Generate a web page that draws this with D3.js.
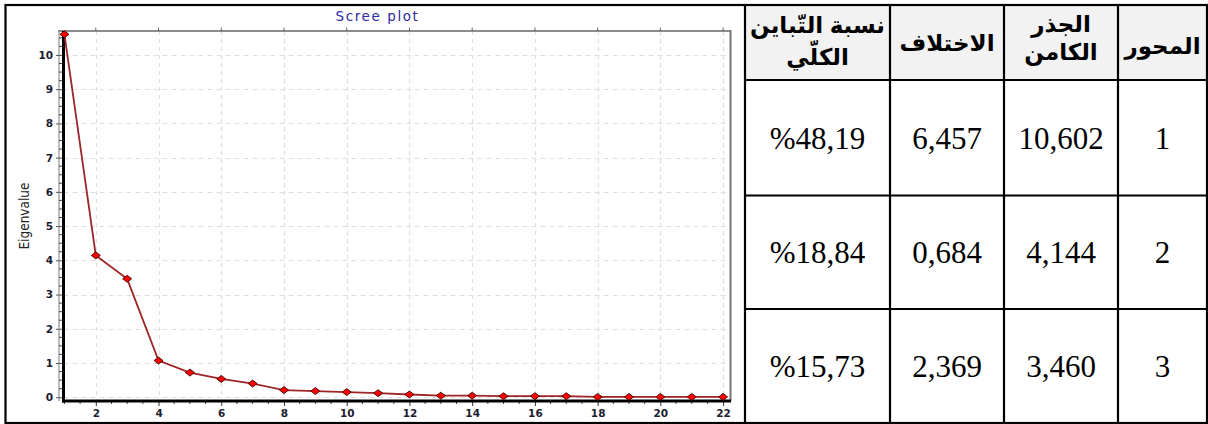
<!DOCTYPE html>
<html>
<head>
<meta charset="utf-8">
<script src="https://cdn.jsdelivr.net/npm/d3@7"></script>
<style>
  html, body { margin: 0; padding: 0; background: #fff; }
  svg { display: block; }
</style>
</head>
<body>
<svg id="page" width="1208" height="424"></svg>
<script>
// Scree plot eigenvalues (components 1..22)
const components = d3.range(1, 23);
const eigenvalues = [10.602, 4.144, 3.460, 1.07, 0.72, 0.535, 0.40, 0.21, 0.18, 0.15,
                     0.12, 0.08, 0.045, 0.045, 0.03, 0.03, 0.03, 0.01, 0.01, 0.01, 0.01, 0.01];
const yTicks = d3.range(0, 11);
const xTicks = d3.range(2, 23, 2);

// Table contents (columns listed right to left)
const headerLines = [["المحور"], ["الجذر", "الكامن"], ["الاختلاف"], ["نسبة التّباين", "الكلّي"]];
const axisNumbers = ["1", "2", "3"];
const rootValues = ["10,602", "4,144", "3,460"];
const differences = ["6,457", "0,684", "2,369"];
const varianceShares = ["%48,19", "%18,84", "%15,73"];

const svg = d3.select("#page");

// ---------- table frame ----------
const colEdges = [1207, 1118, 1004, 890, 745];   // right-to-left borders
const rowEdges = [5, 80, 195.5, 309, 423];

// header background
svg.append("rect")
  .attr("x", colEdges[4]).attr("y", rowEdges[0])
  .attr("width", colEdges[0] - colEdges[4]).attr("height", rowEdges[1] - rowEdges[0])
  .attr("fill", "#f2f2f2");

// ---------- scree plot ----------
const x = d3.scaleLinear().domain([0.97, 22.22]).range([63.5, 730]);
const y = d3.scaleLinear().domain([-0.11, 10.70]).range([401, 31]);

const plot = svg.append("g");

// grid
plot.append("g").selectAll("line").data(yTicks).join("line")
  .attr("x1", x.range()[0]).attr("x2", x.range()[1])
  .attr("y1", d => Math.round(y(d)) + 0.5).attr("y2", d => Math.round(y(d)) + 0.5)
  .attr("stroke", "#dedede").attr("stroke-width", 1).attr("stroke-dasharray", "5,4");
plot.append("g").selectAll("line").data(xTicks).join("line")
  .attr("y1", y.range()[1]).attr("y2", y.range()[0])
  .attr("x1", d => Math.round(x(d)) + 0.5).attr("x2", d => Math.round(x(d)) + 0.5)
  .attr("stroke", "#dedede").attr("stroke-width", 1.2).attr("stroke-dasharray", "4,4");

// frame: top and right in gray
plot.append("line").attr("x1", 58).attr("x2", 731).attr("y1", 31).attr("y2", 31)
  .attr("stroke", "#666").attr("stroke-width", 1.5);
plot.append("line").attr("x1", 730.5).attr("x2", 730.5).attr("y1", 30).attr("y2", 401)
  .attr("stroke", "#777").attr("stroke-width", 2);
plot.append("line").attr("x1", 59).attr("x2", 59).attr("y1", 31).attr("y2", 401)
  .attr("stroke", "#999").attr("stroke-width", 1.3);
// top ticks
plot.append("g").selectAll("line").data(xTicks).join("line")
  .attr("x1", d => x(d)).attr("x2", d => x(d)).attr("y1", 27.5).attr("y2", 31)
  .attr("stroke", "#666").attr("stroke-width", 1);

// y axis
const yAxis = d3.axisLeft(y).tickValues(yTicks).tickSize(6).tickPadding(3).tickFormat(d3.format("d"));
const gy = plot.append("g").attr("transform", "translate(62,0)").call(yAxis);
gy.select(".domain").remove();
gy.selectAll(".tick line").attr("stroke", "#555").attr("stroke-width", 1);
gy.selectAll(".tick text")
  .attr("font-family", "'DejaVu Sans', Verdana, sans-serif").attr("font-size", 10.5)
  .attr("font-weight", "bold").attr("fill", "#1c1c30");
const yMinor = d3.range(0, 10.7, 0.25).filter(v => Math.abs(v - Math.round(v)) > 1e-6);
plot.append("g").selectAll("line").data(yMinor).join("line")
  .attr("x1", 59).attr("x2", 62).attr("y1", d => y(d)).attr("y2", d => y(d))
  .attr("stroke", "#444").attr("stroke-width", 1);
plot.append("line").attr("x1", 63.5).attr("x2", 63.5).attr("y1", 31).attr("y2", 402.5)
  .attr("stroke", "#000").attr("stroke-width", 3);

// x axis
const xAxis = d3.axisBottom(x).tickValues(xTicks).tickSize(5).tickPadding(4).tickFormat(d3.format("d"));
const gx = plot.append("g").attr("transform", "translate(0,401)").call(xAxis);
gx.select(".domain").remove();
gx.selectAll(".tick line").attr("stroke", "#333").attr("stroke-width", 1);
gx.selectAll(".tick text")
  .attr("font-family", "'DejaVu Sans', Verdana, sans-serif").attr("font-size", 10.5)
  .attr("font-weight", "bold").attr("fill", "#1c1c30");
const xMinor = d3.range(1, 22.1, 0.5).filter(v => v % 2 !== 0);
plot.append("g").selectAll("line").data(xMinor).join("line")
  .attr("x1", d => x(d)).attr("x2", d => x(d)).attr("y1", 401).attr("y2", 404)
  .attr("stroke", "#444").attr("stroke-width", 1);
plot.append("line").attr("x1", 62).attr("x2", 731).attr("y1", 401).attr("y2", 401)
  .attr("stroke", "#000").attr("stroke-width", 3);

// eigenvalue line and markers
const pts = components.map((c, i) => [c, eigenvalues[i]]);
plot.append("path").datum(pts)
  .attr("d", d3.line().x(d => x(d[0])).y(d => y(d[1])))
  .attr("fill", "none").attr("stroke", "#9e2626").attr("stroke-width", 1.8);
plot.append("g").selectAll("path").data(pts).join("path")
  .attr("transform", d => `translate(${x(d[0])},${y(d[1])})`)
  .attr("d", "M-4.5,0L0,-3.5L4.5,0L0,3.5Z")
  .attr("fill", "#ff0000").attr("stroke", "#3a0000").attr("stroke-width", 0.9);

// titles
plot.append("text").attr("x", 377.5).attr("y", 21)
  .attr("text-anchor", "middle")
  .attr("font-family", "'DejaVu Sans', Tahoma, sans-serif").attr("font-size", 13.5)
  .attr("letter-spacing", 1.6).attr("fill", "#2b2b9e").text("Scree plot");
plot.append("text")
  .attr("transform", "translate(29,216) rotate(-90)")
  .attr("text-anchor", "middle")
  .attr("font-family", "'DejaVu Sans Condensed', 'DejaVu Sans', sans-serif")
  .attr("font-stretch", "condensed").attr("font-size", 13.5)
  .attr("fill", "#222").text("Eigenvalue");

// ---------- table text ----------
const colCenters = d3.range(4).map(i => (colEdges[i] + colEdges[i + 1]) / 2);
const headerCenters = [[46], [24, 52], [43], [25, 57]];
headerLines.forEach((lines, ci) => {
  lines.forEach((t, li) => {
    svg.append("text")
      .attr("x", colCenters[ci]).attr("y", headerCenters[ci][li])
      .attr("text-anchor", "middle").attr("dominant-baseline", "central")
      .attr("direction", "rtl")
      .attr("font-family", "Arial, 'DejaVu Sans', sans-serif").attr("font-weight", "bold")
      .attr("font-size", 23).attr("fill", "#000").text(t);
  });
});

const bodyCols = [axisNumbers, rootValues, differences, varianceShares];
bodyCols.forEach((vals, ci) => {
  vals.forEach((t, ri) => {
    svg.append("text")
      .attr("x", colCenters[ci]).attr("y", (rowEdges[ri + 1] + rowEdges[ri + 2]) / 2 + 11)
      .attr("text-anchor", "middle")
      .attr("font-family", "'Liberation Serif', 'Times New Roman', serif")
      .attr("font-size", 31).attr("fill", "#000").text(t);
  });
});

// borders
const border = svg.append("g").attr("stroke", "#000").attr("stroke-width", 2.2);
border.append("rect").attr("x", 5.5).attr("y", rowEdges[0]).attr("width", colEdges[0] - 5.5)
  .attr("height", rowEdges[4] - rowEdges[0]).attr("fill", "none");
colEdges.slice(1).forEach(cx => border.append("line")
  .attr("x1", cx).attr("x2", cx).attr("y1", rowEdges[0]).attr("y2", rowEdges[4]));
rowEdges.slice(1, 4).forEach(ry => border.append("line")
  .attr("x1", colEdges[4]).attr("x2", colEdges[0]).attr("y1", ry).attr("y2", ry));
</script>
</body>
</html>
